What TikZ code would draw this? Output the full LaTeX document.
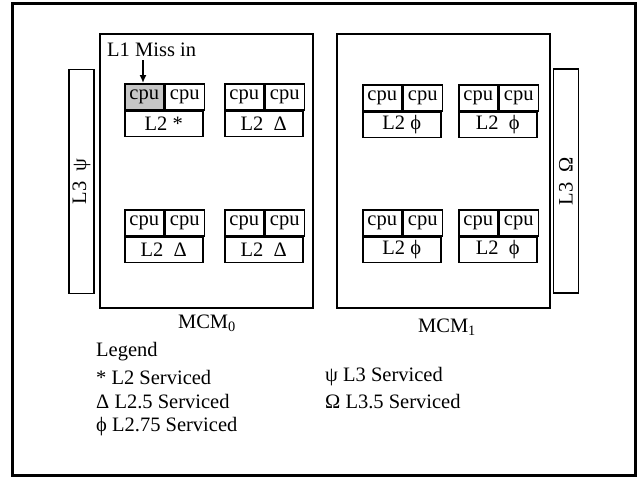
\documentclass[tikz,border=0pt]{standalone}
\usepackage{fontspec}
\setmainfont{Liberation Serif}
\usetikzlibrary{arrows.meta,positioning}

\begin{document}
\begin{tikzpicture}[
    x=1pt,y=-1pt,
    every node/.style={font=\fontsize{20.5}{24}\selectfont},
    frame/.style={draw,line width=3pt},
    mcm/.style={draw,line width=1.5pt},
    l3bar/.style={draw,line width=1.5pt,minimum width=25pt,minimum height=224pt,inner sep=0pt},
    cpu/.style={draw,line width=1.5pt,minimum width=39pt,minimum height=26pt,inner sep=0pt,anchor=north west},
    hit/.style={cpu,fill=gray!45},
    l2box/.style={draw,line width=1.5pt,minimum width=78pt,minimum height=25pt,inner sep=0pt,anchor=north west},
    txt/.style={inner sep=0pt,anchor=west},
    miss/.style={-{Latex[length=8pt,width=7pt]},line width=1.5pt}
]
\useasboundingbox (0,0) rectangle (639,477);
\draw[frame] (12,3) rectangle (635,475);

% the two modules
\draw[mcm] (100,34) rectangle (313,308);
\draw[mcm] (337,34) rectangle (550,308);
\node (mcm0) at (207,323) {MCM\textsubscript{0}};
\node (mcm1) at (447,327) {MCM\textsubscript{1}};

% shared L3 banks
\node[l3bar] (l3a) at (81.5,181.5) {};
\node[rotate=90] at (l3a) {L3\ \ ψ};
\node[l3bar] (l3b) at (566,181) {};
\node[rotate=90] at (l3b) {L3\ \ Ω};

% MCM0, top row
\node[hit] (c1a) at (124,83) {cpu};
\node[cpu] (c1b) at (c1a.north east) {cpu};
\node[l2box] (l2a) at (c1a.south west) {L2 *};
\node[cpu] (c2a) at (224,83) {cpu};
\node[cpu] (c2b) at (c2a.north east) {cpu};
\node[l2box] (l2b) at (c2a.south west) {L2\ \ Δ};
% MCM0, bottom row
\node[cpu] (c3a) at (124,209) {cpu};
\node[cpu] (c3b) at (c3a.north east) {cpu};
\node[l2box] (l2c) at (c3a.south west) {L2\ \ Δ};
\node[cpu] (c4a) at (224,209) {cpu};
\node[cpu] (c4b) at (c4a.north east) {cpu};
\node[l2box] (l2d) at (c4a.south west) {L2\ \ Δ};

% MCM1, top row
\node[cpu] (c5a) at (362,84) {cpu};
\node[cpu] (c5b) at (c5a.north east) {cpu};
\node[l2box] (l2e) at (c5a.south west) {L2 ϕ};
\node[cpu] (c6a) at (458,84) {cpu};
\node[cpu] (c6b) at (c6a.north east) {cpu};
\node[l2box] (l2f) at (c6a.south west) {L2\ \ ϕ};
% MCM1, bottom row
\node[cpu] (c7a) at (362,209) {cpu};
\node[cpu] (c7b) at (c7a.north east) {cpu};
\node[l2box] (l2g) at (c7a.south west) {L2 ϕ};
\node[cpu] (c8a) at (458,209) {cpu};
\node[cpu] (c8b) at (c8a.north east) {cpu};
\node[l2box] (l2h) at (c8a.south west) {L2\ \ ϕ};

% the miss
\node[txt] (missin) at (107,50) {L1 Miss in};
\coordinate (misstop) at (143,60);
\draw[miss] (misstop) -- (c1a.north -| misstop);

% legend
\node[txt] (leg) at (96,352) {Legend};
\node[txt] (leg1) at (96,377) {* L2 Serviced};
\node[txt] (leg2) at (96,402) {Δ L2.5 Serviced};
\node[txt] (leg3) at (96,427) {ϕ L2.75 Serviced};
\node[txt] (leg4) at (325,377) {ψ L3 Serviced};
\node[txt] (leg5) at (325,402) {Ω L3.5 Serviced};
\end{tikzpicture}
\end{document}
